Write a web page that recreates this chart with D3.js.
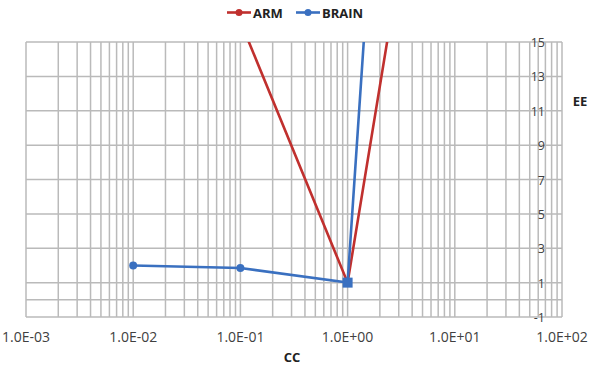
<!DOCTYPE html>
<html>
<head>
<meta charset="utf-8">
<script src="https://cdn.jsdelivr.net/npm/d3@7"></script>
<style>
  body { margin: 0; background: #fff; }
  text { font-family: "Open Sans", sans-serif; fill: #404040; }
</style>
</head>
<body>
<svg id="chart" width="592" height="368"></svg>
<script>
const seriesNames = ['ARM', 'BRAIN'];
const seriesColors = ['#c0302e', '#3a70c0'];
const armCC = [0.1, 1, 10];
const armEE = [16.2, 1, 39];
const brainCC = [0.01, 0.1, 1, 10];
const brainEE = [2.0, 1.85, 1, 94];
const brainMarkers = ['circle', 'circle', 'square', 'circle'];
const xTicks = [1e-3, 1e-2, 1e-1, 1e0, 1e1, 1e2];
const xTickLabels = ['1.0E-03', '1.0E-02', '1.0E-01', '1.0E+00', '1.0E+01', '1.0E+02'];
const yTicks = [-1, 1, 3, 5, 7, 9, 11, 13, 15];

const svg = d3.select('#chart');
const plotLeft = 26, plotRight = 562, plotTop = 42, plotBottom = 317;
const x = d3.scaleLog().domain([1e-3, 1e2]).range([plotLeft, plotRight]);
const y = d3.scaleLinear().domain([-1, 15]).range([plotBottom, plotTop]);

// gridlines
const minor = [];
for (let e = -3; e < 2; e++) {
  for (let k = 1; k <= 9; k++) minor.push(k * Math.pow(10, e));
}
minor.push(100);
const grid = svg.append('g').attr('stroke', '#bababa').attr('stroke-width', 1.5);
grid.selectAll('.v').data(minor).join('line')
  .attr('x1', d => x(d)).attr('x2', d => x(d))
  .attr('y1', plotTop).attr('y2', plotBottom);
grid.selectAll('.h').data(yTicks.concat([0])).join('line')
  .attr('x1', plotLeft).attr('x2', plotRight)
  .attr('y1', d => y(d)).attr('y2', d => y(d));

// axis labels
svg.append('g').selectAll('text').data(xTicks).join('text')
  .attr('x', d => x(d)).attr('y', 342)
  .attr('text-anchor', 'middle').attr('font-size', 14)
  .text((d, i) => xTickLabels[i]);
svg.append('g').selectAll('text').data(yTicks).join('text')
  .attr('x', 545).attr('y', d => y(d) + 5)
  .attr('text-anchor', 'end').attr('font-size', 12.5)
  .text(d => d);
svg.append('text').attr('x', 292).attr('y', 362).attr('text-anchor', 'middle')
  .attr('font-size', 13).attr('font-weight', 'bold').style('fill', '#222').text('CC');
svg.append('text').attr('x', 580).attr('y', 106).attr('text-anchor', 'middle')
  .attr('font-size', 13).attr('font-weight', 'bold').style('fill', '#222').text('EE');

// series
svg.append('clipPath').attr('id', 'clip').append('rect')
  .attr('x', plotLeft).attr('y', plotTop).attr('width', plotRight - plotLeft).attr('height', plotBottom - plotTop);
const plot = svg.append('g').attr('clip-path', 'url(#clip)');
const line = d3.line().x(d => x(d[0])).y(d => y(d[1]));
const arm = armCC.map((c, i) => [c, armEE[i]]);
const brain = brainCC.map((c, i) => [c, brainEE[i]]);
plot.append('path').datum(arm).attr('d', line)
  .attr('fill', 'none').attr('stroke', seriesColors[0]).attr('stroke-width', 2.6);
plot.append('path').datum(brain).attr('d', line)
  .attr('fill', 'none').attr('stroke', seriesColors[1]).attr('stroke-width', 2.6);
plot.selectAll('.arm-pt').data(arm).join('circle')
  .attr('cx', d => x(d[0])).attr('cy', d => y(d[1])).attr('r', 3.5)
  .attr('fill', seriesColors[0]);
brain.forEach((d, i) => {
  if (brainMarkers[i] === 'square') {
    plot.append('rect').attr('x', x(d[0]) - 5).attr('y', y(d[1]) - 5)
      .attr('width', 10).attr('height', 10).attr('fill', seriesColors[1]);
  } else {
    plot.append('circle').attr('cx', x(d[0])).attr('cy', y(d[1])).attr('r', 4)
      .attr('fill', seriesColors[1]);
  }
});

// legend
const legendX = [227, 296];
seriesNames.forEach((name, i) => {
  const g = svg.append('g').attr('transform', `translate(${legendX[i]},12.5)`);
  g.append('line').attr('x1', 0).attr('x2', 24).attr('stroke', seriesColors[i]).attr('stroke-width', 2.6);
  g.append('circle').attr('cx', 12).attr('r', 3.5).attr('fill', seriesColors[i]);
  g.append('text').attr('x', 26).attr('y', 5).attr('font-size', 13)
    .attr('font-weight', 'bold').style('fill', '#222').text(name);
});
</script>
</body>
</html>
